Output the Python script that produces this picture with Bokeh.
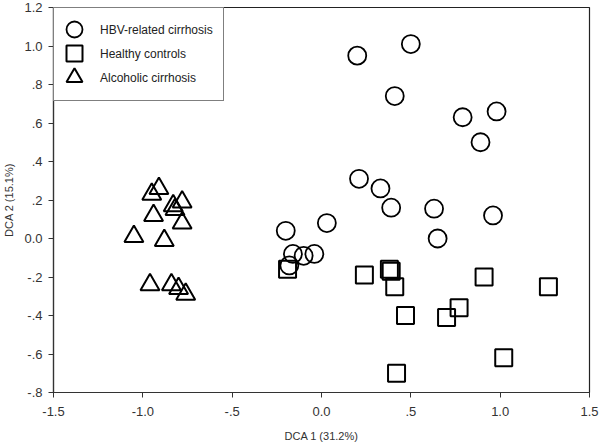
from bokeh.plotting import figure
from bokeh.models import Range1d, FixedTicker, Legend, LegendItem
from bokeh.embed import file_html
from bokeh.resources import INLINE

# HBV-related cirrhosis
hbv_x = [0.20, 0.50, 0.41, 0.79, 0.98, 0.89, 0.21, 0.33, 0.39, 0.63, 0.96, 0.65,
         0.03, -0.20, -0.16, -0.10, -0.04, -0.18]
hbv_y = [0.95, 1.01, 0.74, 0.63, 0.66, 0.50, 0.31, 0.26, 0.16, 0.155, 0.12, 0.00,
         0.08, 0.04, -0.08, -0.09, -0.08, -0.14]

# Healthy controls
hc_x = [-0.19, 0.24, 0.38, 0.39, 0.41, 0.47, 0.70, 0.77, 0.91, 1.27, 1.02, 0.42]
hc_y = [-0.16, -0.19, -0.16, -0.17, -0.25, -0.40, -0.41, -0.36, -0.20, -0.25, -0.62, -0.70]

# Alcoholic cirrhosis
ac_x = [-0.95, -0.91, -0.78, -0.82, -0.83, -0.94, -0.78, -1.05, -0.88, -0.96, -0.84, -0.80, -0.76]
ac_y = [0.23, 0.26, 0.19, 0.15, 0.17, 0.12, 0.08, 0.01, -0.01, -0.24, -0.24, -0.26, -0.29]

x_ticks = [-1.5, -1.0, -0.5, 0.0, 0.5, 1.0, 1.5]
x_tick_labels = ["-1.5", "-1.0", "-.5", "0.0", ".5", "1.0", "1.5"]
y_ticks = [-0.8, -0.6, -0.4, -0.2, 0.0, 0.2, 0.4, 0.6, 0.8, 1.0, 1.2]
y_tick_labels = ["-.8", "-.6", "-.4", "-.2", "0.0", ".2", ".4", ".6", ".8", "1.0", "1.2"]

series_names = ["HBV-related cirrhosis", "Healthy controls", "Alcoholic cirrhosis"]

FONT = "Liberation Sans"

W, H = 600, 446
BT, BB = 7, 54
FRAME_H = H - BT - BB

p = figure(width=W, height=H, output_backend="svg", toolbar_location=None,
           x_range=Range1d(-1.5, 1.5), y_range=Range1d(-0.8, 1.2),
           min_border_left=44, min_border_right=11, min_border_top=BT, min_border_bottom=BB)

p.xgrid.visible = False
p.ygrid.visible = False
p.outline_line_color = "#222222"
p.outline_line_width = 1.2
p.background_fill_color = "white"
p.border_fill_color = "white"

marker_style = dict(fill_color=None, line_color="black")
r1 = p.scatter(hbv_x, hbv_y, marker="circle", size=18, line_width=1.8, **marker_style)
r2 = p.scatter(hc_x, hc_y, marker="square", size=17, line_width=2, **marker_style)
r3 = p.scatter(ac_x, ac_y, marker="triangle", size=19, line_width=2, **marker_style)

# invisible stand-ins so the boxed legend shows only its labels
d1 = p.scatter([], [], marker="circle", fill_alpha=0, line_alpha=0)
d2 = p.scatter([], [], marker="square", fill_alpha=0, line_alpha=0)
d3 = p.scatter([], [], marker="triangle", fill_alpha=0, line_alpha=0)

p.xaxis.ticker = FixedTicker(ticks=x_ticks)
p.yaxis.ticker = FixedTicker(ticks=y_ticks)
p.xaxis.major_label_overrides = {t: l for t, l in zip(x_ticks, x_tick_labels)}
p.yaxis.major_label_overrides = {t: l for t, l in zip(y_ticks, y_tick_labels)}

for ax in (p.xaxis, p.yaxis):
    ax.minor_tick_line_color = None
    ax.major_tick_in = 0
    ax.major_tick_out = 5
    ax.major_tick_line_color = "#333333"
    ax.axis_line_color = "#333333"
    ax.axis_line_width = 1.2
    ax.major_label_text_font = FONT
    ax.major_label_text_font_size = "13px"
    ax.major_label_text_color = "#333333"
    ax.axis_label_text_font = FONT
    ax.axis_label_text_font_size = "11px"
    ax.axis_label_text_font_style = "normal"
    ax.axis_label_text_color = "#333333"

p.xaxis.axis_label = "DCA 1 (31.2%)"
p.yaxis.axis_label = "DCA 2 (15.1%)"
p.xaxis.major_label_standoff = 9
p.xaxis.axis_label_standoff = 11
p.yaxis.major_label_standoff = 6
p.yaxis.axis_label_standoff = 6

# boxed legend holding the labels
legend = Legend(items=[LegendItem(label=series_names[0], renderers=[d1]),
                       LegendItem(label=series_names[1], renderers=[d2]),
                       LegendItem(label=series_names[2], renderers=[d3])],
                location="top_left", margin=0, padding=10, spacing=0,
                glyph_width=22, glyph_height=24, label_standoff=14,
                label_text_font=FONT, label_text_font_size="12px",
                label_text_color="#222222",
                border_line_color="black", border_line_width=1.2,
                background_fill_color="white", background_fill_alpha=1.0)
p.add_layout(legend)

# larger legend symbols, one transparent legend per entry
for i, r in enumerate([r1, r2, r3]):
    sym = Legend(items=[LegendItem(label=" ", renderers=[r])],
                 location=(1, FRAME_H - 42 - 24 * i), margin=0, padding=0,
                 glyph_width=40, glyph_height=40, label_standoff=0,
                 label_text_font_size="1px",
                 border_line_color=None, background_fill_alpha=0.0)
    p.add_layout(sym)

open("out.html", "w").write(file_html(p, INLINE))
